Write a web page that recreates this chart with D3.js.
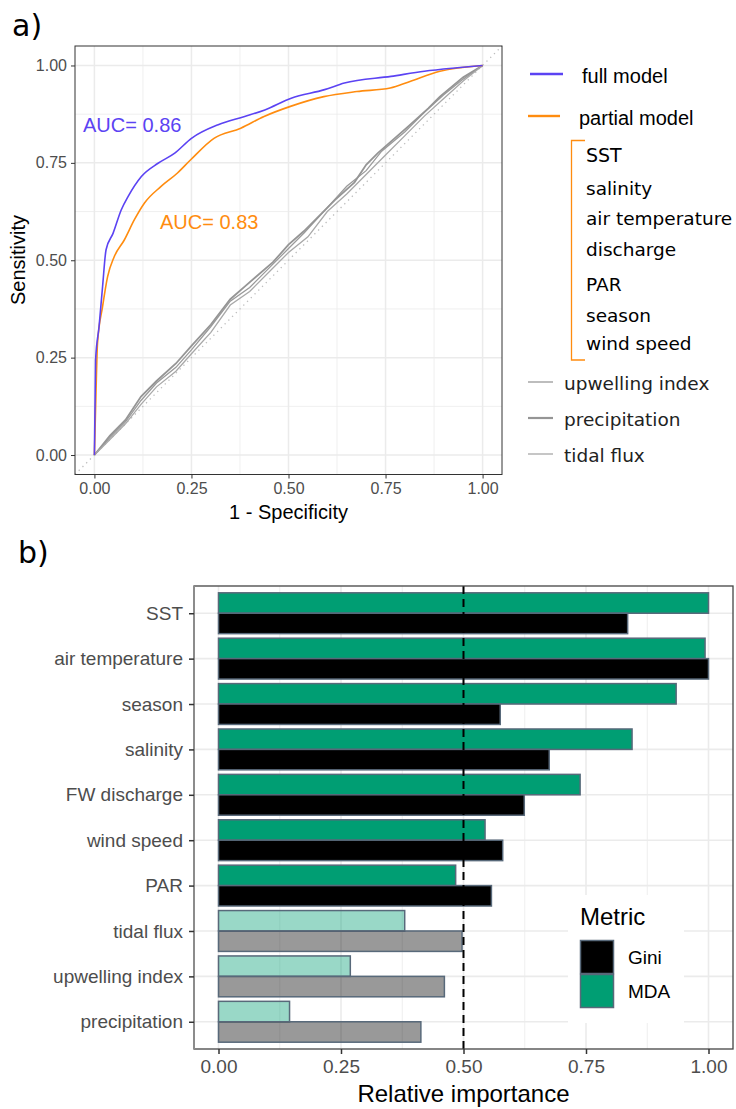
<!DOCTYPE html>
<html>
<head>
<meta charset="utf-8">
<script src="https://cdn.jsdelivr.net/npm/d3@7"></script>
<style>
  body { margin: 0; background: #fff; }
  svg { display: block; font-family: "Liberation Sans", Arial, sans-serif; }
</style>
</head>
<body>
<svg id="chart" width="736" height="1109"></svg>
<script>
// ---- panel a data: ROC curves [1 - specificity, sensitivity]
const fullModel = [[0,0],[0.003,0.244],[0.012,0.33],[0.021,0.432],[0.030,0.527],[0.048,0.569],[0.069,0.629],
  [0.087,0.664],[0.121,0.715],[0.164,0.749],[0.207,0.775],[0.250,0.813],[0.319,0.848],[0.387,0.869],
  [0.439,0.886],[0.507,0.916],[0.593,0.938],[0.644,0.955],[0.764,0.972],[0.850,0.985],[0.935,0.994],[1,1]];
const partialModel = [[0,0],[0.004,0.158],[0.008,0.287],[0.021,0.381],[0.034,0.458],[0.051,0.509],[0.077,0.552],
  [0.103,0.604],[0.129,0.647],[0.171,0.689],[0.214,0.724],[0.248,0.758],[0.308,0.813],[0.377,0.839],
  [0.437,0.869],[0.505,0.895],[0.591,0.920],[0.676,0.933],[0.762,0.942],[0.813,0.959],[0.890,0.985],[1,1]];
const upwellingRoc = [[0,0],[0.04,0.045],[0.08,0.085],[0.12,0.14],[0.16,0.185],[0.21,0.225],[0.25,0.27],
  [0.30,0.33],[0.35,0.395],[0.40,0.43],[0.46,0.49],[0.50,0.53],[0.54,0.57],[0.60,0.635],[0.65,0.69],
  [0.70,0.73],[0.74,0.78],[0.80,0.83],[0.85,0.88],[0.90,0.925],[0.95,0.965],[1,1]];
const precipitationRoc = [[0,0],[0.04,0.05],[0.08,0.09],[0.12,0.15],[0.16,0.19],[0.21,0.235],[0.25,0.28],
  [0.30,0.335],[0.35,0.40],[0.39,0.435],[0.46,0.495],[0.50,0.54],[0.54,0.575],[0.62,0.655],[0.67,0.70],
  [0.70,0.745],[0.73,0.775],[0.81,0.845],[0.86,0.89],[0.89,0.92],[0.95,0.97],[1,1]];
const tidalRoc = [[0,0],[0.04,0.04],[0.08,0.08],[0.12,0.13],[0.16,0.175],[0.21,0.215],[0.25,0.26],
  [0.30,0.315],[0.35,0.385],[0.40,0.42],[0.46,0.48],[0.50,0.52],[0.55,0.56],[0.60,0.625],[0.65,0.67],
  [0.70,0.72],[0.75,0.77],[0.80,0.82],[0.85,0.87],[0.90,0.915],[0.95,0.96],[1,1]];
const aucLabels = ["AUC= 0.86", "AUC= 0.83"];
const rocTicks = [0, 0.25, 0.5, 0.75, 1];

const legendModels = ["full model", "partial model"];
const partialVars = ["SST", "salinity", "air temperature", "discharge", "PAR", "season", "wind speed"];
const otherVars = ["upwelling index", "precipitation", "tidal flux"];

// ---- panel b data: relative importance
const variables = ["SST", "air temperature", "season", "salinity", "FW discharge",
  "wind speed", "PAR", "tidal flux", "upwelling index", "precipitation"];
const mda  = [1.0, 0.993, 0.934, 0.844, 0.738, 0.544, 0.484, 0.380, 0.269, 0.145];
const gini = [0.835, 1.0, 0.575, 0.675, 0.624, 0.580, 0.557, 0.497, 0.461, 0.413];
const faded = ["tidal flux", "upwelling index", "precipitation"];
const metrics = ["Gini", "MDA"];
const impTicks = [0, 0.25, 0.5, 0.75, 1];

const svg = d3.select("#chart");
const blue = "#5b43f3", orange = "#ff8c0f", grey = "#9a9a9a";
const green = "#009e73", barStroke = "#58697a", gridCol = "#ebebeb";
const fmt = d3.format(".2f");

// ================= panel a =================
const xA = d3.scaleLinear().domain([-0.05, 1.05]).range([75, 502]);
const yA = d3.scaleLinear().domain([-0.05, 1.05]).range([474.5, 46]);
const minorA = [0.125, 0.375, 0.625, 0.875];

const gA = svg.append("g");
gA.selectAll("line.vminor").data(minorA).join("line")
  .attr("x1", d => xA(d)).attr("x2", d => xA(d)).attr("y1", 46).attr("y2", 474.5)
  .attr("stroke", gridCol).attr("stroke-width", 0.8);
gA.selectAll("line.hminor").data(minorA).join("line")
  .attr("y1", d => yA(d)).attr("y2", d => yA(d)).attr("x1", 75).attr("x2", 502)
  .attr("stroke", gridCol).attr("stroke-width", 0.8);
gA.selectAll("line.vmajor").data(rocTicks).join("line")
  .attr("x1", d => xA(d)).attr("x2", d => xA(d)).attr("y1", 46).attr("y2", 474.5)
  .attr("stroke", gridCol).attr("stroke-width", 1.5);
gA.selectAll("line.hmajor").data(rocTicks).join("line")
  .attr("y1", d => yA(d)).attr("y2", d => yA(d)).attr("x1", 75).attr("x2", 502)
  .attr("stroke", gridCol).attr("stroke-width", 1.5);

// chance line
gA.append("line")
  .attr("x1", xA(-0.05)).attr("y1", yA(-0.05)).attr("x2", xA(1.05)).attr("y2", yA(1.05))
  .attr("stroke", "#bdbdbd").attr("stroke-width", 1.3).attr("stroke-dasharray", "1.3,4");

const lineA = d3.line().x(d => xA(d[0])).y(d => yA(d[1]));
const smoothA = d3.line().x(d => xA(d[0])).y(d => yA(d[1])).curve(d3.curveMonotoneX);
[[upwellingRoc, 1.3, grey], [precipitationRoc, 1.8, "#959595"], [tidalRoc, 1.3, "#a8a8a8"]].forEach(([data, w, c]) => {
  gA.append("path").datum(data).attr("d", lineA)
    .attr("fill", "none").attr("stroke", c).attr("stroke-width", w);
});
gA.append("path").datum(partialModel).attr("d", smoothA)
  .attr("fill", "none").attr("stroke", orange).attr("stroke-width", 1.6);
gA.append("path").datum(fullModel).attr("d", smoothA)
  .attr("fill", "none").attr("stroke", blue).attr("stroke-width", 1.6);

gA.append("text").attr("x", 83).attr("y", 131.5).attr("font-size", 20).attr("fill", blue).text(aucLabels[0]);
gA.append("text").attr("x", 160).attr("y", 229).attr("font-size", 20).attr("fill", orange).text(aucLabels[1]);

gA.append("rect").attr("x", 75).attr("y", 46).attr("width", 427).attr("height", 428.5)
  .attr("fill", "none").attr("stroke", "#333").attr("stroke-width", 1);

const axA_x = gA.append("g").attr("transform", "translate(0,474.5)")
  .call(d3.axisBottom(xA).tickValues(rocTicks).tickSize(4).tickPadding(4).tickFormat(fmt));
const axA_y = gA.append("g").attr("transform", "translate(75,0)")
  .call(d3.axisLeft(yA).tickValues(rocTicks).tickSize(4).tickPadding(4).tickFormat(fmt));
[axA_x, axA_y].forEach(ax => {
  ax.select(".domain").remove();
  ax.selectAll("line").attr("stroke", "#333");
  ax.selectAll("text").attr("font-size", 16).attr("fill", "#4d4d4d")
    .attr("font-family", "'Liberation Sans', Arial, sans-serif");
});

gA.append("text").attr("x", 288.5).attr("y", 519).attr("text-anchor", "middle")
  .attr("font-size", 20).text("1 - Specificity");
gA.append("text").attr("transform", "translate(24.5,260) rotate(-90)").attr("text-anchor", "middle")
  .attr("font-size", 20).text("Sensitivity");

svg.append("text").attr("x", 12).attr("y", 36).attr("font-family", "'DejaVu Sans', sans-serif")
  .attr("font-size", 30).text("a)");

// legend a
const legA = svg.append("g");
legA.selectAll("line.model").data(legendModels).join("line")
  .attr("x1", (d, i) => i === 0 ? 530 : 528).attr("x2", (d, i) => i === 0 ? 563 : 560)
  .attr("y1", (d, i) => 74 + i * 42).attr("y2", (d, i) => 74 + i * 42)
  .attr("stroke", (d, i) => i === 0 ? blue : orange).attr("stroke-width", 2.4);
legA.selectAll("text.model").data(legendModels).join("text")
  .attr("x", (d, i) => i === 0 ? 582 : 579).attr("y", (d, i) => 76 + i * 42)
  .attr("dominant-baseline", "central").attr("font-size", 20).text(d => d);

legA.append("path").attr("d", "M585,140.5 H571.5 V360 H585")
  .attr("fill", "none").attr("stroke", orange).attr("stroke-width", 1.3);
const partialY = [155, 188, 218, 249, 284, 315, 343];
legA.selectAll("text.pv").data(partialVars).join("text")
  .attr("x", 586).attr("y", (d, i) => partialY[i])
  .attr("dominant-baseline", "central").attr("font-family", "'DejaVu Sans', sans-serif")
  .attr("font-size", d => d === "SST" ? 19 : 18.5).text(d => d);

const otherStyle = [[1.3, grey], [2.2, "#959595"], [1.3, "#a8a8a8"]];
legA.selectAll("line.ov").data(otherVars).join("line")
  .attr("x1", 528).attr("x2", 553)
  .attr("y1", (d, i) => 382 + i * 36).attr("y2", (d, i) => 382 + i * 36)
  .attr("stroke", (d, i) => otherStyle[i][1]).attr("stroke-width", (d, i) => otherStyle[i][0]);
legA.selectAll("text.ov").data(otherVars).join("text")
  .attr("x", 564).attr("y", (d, i) => 383 + i * 36)
  .attr("dominant-baseline", "central").attr("font-family", "'DejaVu Sans', sans-serif")
  .attr("font-size", 18.5).attr("fill", "#222").text(d => d);

// ================= panel b =================
const xB = d3.scaleLinear().domain([-0.05, 1.05]).range([194, 733]);
const yB = d3.scalePoint().domain(variables).range([586, 1049]).padding(0.6);
const step = yB.step();
const barH = step * 0.9 / 2;
const minorB = [0.125, 0.375, 0.625, 0.875];

const gB = svg.append("g");
gB.selectAll("line.vminor").data(minorB).join("line")
  .attr("x1", d => xB(d)).attr("x2", d => xB(d)).attr("y1", 586).attr("y2", 1049)
  .attr("stroke", gridCol).attr("stroke-width", 0.8);
gB.selectAll("line.vmajor").data(impTicks).join("line")
  .attr("x1", d => xB(d)).attr("x2", d => xB(d)).attr("y1", 586).attr("y2", 1049)
  .attr("stroke", gridCol).attr("stroke-width", 1.6);
gB.selectAll("line.hmajor").data(variables).join("line")
  .attr("y1", d => yB(d)).attr("y2", d => yB(d)).attr("x1", 194).attr("x2", 733)
  .attr("stroke", gridCol).attr("stroke-width", 1.6);

const bars = variables.flatMap((v, i) => [
  { v, metric: "MDA", value: mda[i] },
  { v, metric: "Gini", value: gini[i] }
]);
gB.selectAll("rect.bar").data(bars).join("rect")
  .attr("x", xB(0))
  .attr("y", d => d.metric === "MDA" ? yB(d.v) - barH : yB(d.v))
  .attr("width", d => xB(d.value) - xB(0))
  .attr("height", barH)
  .attr("fill", d => d.metric === "MDA" ? green : "#000")
  .attr("fill-opacity", d => faded.includes(d.v) ? 0.4 : 1)
  .attr("stroke", barStroke).attr("stroke-width", 1.5);

gB.append("line").attr("x1", xB(0.5)).attr("x2", xB(0.5)).attr("y1", 586).attr("y2", 1049)
  .attr("stroke", "#000").attr("stroke-width", 2).attr("stroke-dasharray", "8,5");

// legend b
const legB = gB.append("g");
legB.append("rect").attr("x", 568).attr("y", 895).attr("width", 116).attr("height", 128).attr("fill", "#fff");
legB.append("text").attr("x", 580).attr("y", 925).attr("font-size", 24).text("Metric");
legB.selectAll("rect.key").data(metrics).join("rect")
  .attr("x", 580.5).attr("y", (d, i) => 940.5 + i * 34).attr("width", 33).attr("height", 33)
  .attr("fill", d => d === "MDA" ? green : "#000").attr("stroke", barStroke).attr("stroke-width", 1.5);
legB.selectAll("text.key").data(metrics).join("text")
  .attr("x", 628).attr("y", (d, i) => 957 + i * 34).attr("dominant-baseline", "central")
  .attr("font-size", 19).text(d => d);

gB.append("rect").attr("x", 194).attr("y", 586).attr("width", 539).attr("height", 463)
  .attr("fill", "none").attr("stroke", "#444").attr("stroke-width", 1.3);
gB.append("line").attr("x1", 194).attr("x2", 194).attr("y1", 586).attr("y2", 1049)
  .attr("stroke", "#8c8c8c").attr("stroke-width", 2);

const axB_x = gB.append("g").attr("transform", "translate(0,1049)")
  .call(d3.axisBottom(xB).tickValues(impTicks).tickSize(5).tickPadding(6).tickFormat(fmt));
const axB_y = gB.append("g").attr("transform", "translate(194,0)")
  .call(d3.axisLeft(yB).tickSize(5).tickPadding(6));
[axB_x, axB_y].forEach(ax => {
  ax.select(".domain").remove();
  ax.selectAll("line").attr("stroke", "#333").attr("stroke-width", 1.5);
  ax.selectAll("text").attr("font-size", 19).attr("fill", "#4d4d4d")
    .attr("font-family", "'Liberation Sans', Arial, sans-serif");
});

gB.append("text").attr("x", 463.5).attr("y", 1102).attr("text-anchor", "middle")
  .attr("font-size", 24).text("Relative importance");

svg.append("text").attr("x", 18).attr("y", 563).attr("font-family", "'DejaVu Sans', sans-serif")
  .attr("font-size", 30).text("b)");
</script>
</body>
</html>
